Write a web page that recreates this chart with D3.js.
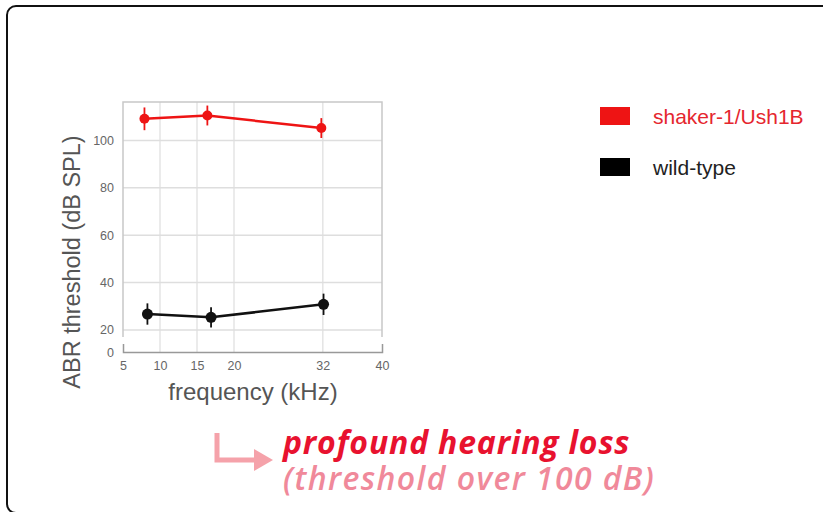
<!DOCTYPE html>
<html>
<head>
<meta charset="utf-8">
<script src="https://cdn.jsdelivr.net/npm/d3@7"></script>
<style>
  body { margin: 0; background: #fff; }
  svg { display: block; font-family: "Liberation Sans", Arial, sans-serif; }
  .grid line { stroke: #dedede; stroke-width: 1.5; }
  .tick text { fill: #666; font-size: 12.5px; }
</style>
</head>
<body>
<div id="chart"></div>
<script>
// frequencies (kHz) and ABR thresholds (dB SPL)
const shakerFreq = [7.9, 16.4, 31.8];
const shakerThreshold = [109.1, 110.5, 105.2];
const shakerErr = [4.8, 4.2, 4.2];

const wildFreq = [8.3, 16.9, 32.1];
const wildThreshold = [26.7, 25.3, 30.8];
const wildErr = [4.5, 4.3, 4.5];

const xTicks = [5, 10, 15, 20, 32, 40];
const yTicks = [20, 40, 60, 80, 100];
const seriesNames = ["shaker-1/Ush1B", "wild-type"];
const seriesColors = ["#ee1414", "#111111"];

const width = 823, height = 512;

const svg = d3.select("#chart")
    .append("svg")
    .attr("width", width)
    .attr("height", height);

// outer rounded frame (runs off the right and bottom edges)
svg.append("rect")
    .attr("x", 7).attr("y", 6)
    .attr("width", 840).attr("height", 507)
    .attr("rx", 9)
    .attr("fill", "none")
    .attr("stroke", "#111")
    .attr("stroke-width", 2);

// scales: upper panel, plus a broken-off strip for 0
const x = d3.scaleLinear().domain([5, 40]).range([123, 382]);
const y = d3.scaleLinear().domain([17, 116.2]).range([337, 102]);
const yLow = d3.scaleLinear().domain([0, 5]).range([352, 344]);

// vertical grid through both parts
svg.append("g")
    .attr("class", "grid")
    .selectAll("line")
    .data(xTicks.slice(1, -1))
    .enter()
    .append("line")
    .attr("x1", d => x(d)).attr("x2", d => x(d))
    .attr("y1", y.range()[1]).attr("y2", yLow(0))
    .style("stroke", "#e4e4e4");

// horizontal grid
svg.append("g")
    .attr("class", "grid")
    .selectAll("line")
    .data(yTicks)
    .enter()
    .append("line")
    .attr("x1", x(5)).attr("x2", x(40))
    .attr("y1", d => y(d)).attr("y2", d => y(d));

// panel border (top, left, right)
svg.append("path")
    .attr("d", `M${x(5)},${y(17)}V${y(116.2)}H${x(40)}V${y(17)}`)
    .attr("fill", "none")
    .attr("stroke", "#c8c8c8")
    .attr("stroke-width", 1.5);

// y axis labels
svg.append("g")
    .attr("transform", `translate(${x(5)},0)`)
    .call(d3.axisLeft(y).tickValues(yTicks).tickSize(0).tickPadding(9))
    .call(g => g.select(".domain").remove());

svg.append("g")
    .attr("transform", `translate(${x(5)},0)`)
    .call(d3.axisLeft(yLow).tickValues([0]).tickFormat(d3.format("d")).tickSize(0).tickPadding(9))
    .call(g => g.select(".domain").remove());

// x axis with upturned end ticks
svg.append("g")
    .attr("transform", `translate(0,${yLow(0)})`)
    .call(d3.axisBottom(x).tickValues(xTicks).tickSizeInner(0).tickSizeOuter(-8).tickPadding(9))
    .call(g => g.select(".domain").attr("stroke", "#999").attr("stroke-width", 1.5));

// axis titles
svg.append("text")
    .attr("x", 253).attr("y", 400)
    .attr("text-anchor", "middle")
    .attr("fill", "#555")
    .style("font-size", "24px")
    .text("frequency (kHz)");

svg.append("text")
    .attr("transform", "translate(80,262) rotate(-90)")
    .attr("text-anchor", "middle")
    .attr("fill", "#555")
    .style("font-size", "23.5px")
    .text("ABR threshold (dB SPL)");

// series
const series = [
    {freq: shakerFreq, val: shakerThreshold, err: shakerErr, color: seriesColors[0], r: 5},
    {freq: wildFreq, val: wildThreshold, err: wildErr, color: seriesColors[1], r: 5.5}
];

const line = d3.line()
    .x(d => x(d.f))
    .y(d => y(d.v));

series.forEach(s => {
    const pts = s.freq.map((f, i) => ({f, v: s.val[i], e: s.err[i]}));
    const g = svg.append("g");

    g.append("path")
        .datum(pts)
        .attr("d", line)
        .attr("fill", "none")
        .attr("stroke", s.color)
        .attr("stroke-width", 2.5);

    g.selectAll(".err")
        .data(pts)
        .enter()
        .append("line")
        .attr("x1", d => x(d.f)).attr("x2", d => x(d.f))
        .attr("y1", d => y(d.v + d.e)).attr("y2", d => y(d.v - d.e))
        .attr("stroke", s.color)
        .attr("stroke-width", 1.8);

    g.selectAll("circle")
        .data(pts)
        .enter()
        .append("circle")
        .attr("cx", d => x(d.f))
        .attr("cy", d => y(d.v))
        .attr("r", s.r)
        .attr("fill", s.color);
});

// legend
const legend = svg.append("g").attr("transform", "translate(600,107)");
seriesNames.forEach((name, i) => {
    const g = legend.append("g").attr("transform", `translate(0,${i * 51})`);
    g.append("rect")
        .attr("width", 30).attr("height", 18)
        .attr("fill", i === 0 ? seriesColors[i] : "#000");
    g.append("text")
        .attr("x", 53).attr("y", 17)
        .attr("fill", i === 0 ? "#e5262e" : "#222")
        .style("font-size", "21px")
        .text(name);
});

// annotation
const note = svg.append("g");
note.append("path")
    .attr("d", "M217,433V460H258")
    .attr("fill", "none")
    .attr("stroke", "#f5a2aa")
    .attr("stroke-width", 5);
note.append("path")
    .attr("d", "M254,449L273,460L254,471Z")
    .attr("fill", "#f5a2aa");

note.append("text")
    .attr("x", 283).attr("y", 454)
    .attr("fill", "#e8122f")
    .style("font-family", "'Open Sans', sans-serif")
    .style("font-weight", "700")
    .style("font-style", "italic")
    .style("font-size", "32px")
    .style("letter-spacing", "0.8px")
    .text("profound hearing loss");

note.append("text")
    .attr("x", 283).attr("y", 490)
    .attr("fill", "#f0899a")
    .style("font-family", "'Open Sans', sans-serif")
    .style("font-weight", "600")
    .style("font-style", "italic")
    .style("font-size", "32px")
    .style("letter-spacing", "1.4px")
    .text("(threshold over 100 dB)");
</script>
</body>
</html>
